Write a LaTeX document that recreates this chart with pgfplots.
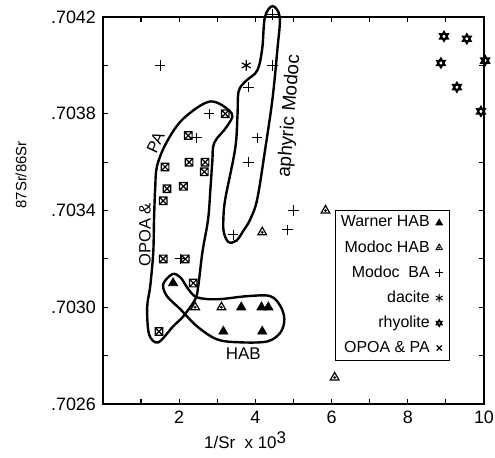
\documentclass[border=0pt]{standalone}
\usepackage{fontspec}
\setmainfont{Liberation Sans}
\usepackage{pgfplots}
\pgfplotsset{compat=1.18}

% square with a cross in it (OPOA & PA)
\pgfdeclareplotmark{boxx}{%
  \pgfpathrectangle{\pgfqpoint{-\pgfplotmarksize}{-\pgfplotmarksize}}{\pgfqpoint{2\pgfplotmarksize}{2\pgfplotmarksize}}%
  \pgfpathmoveto{\pgfqpoint{-\pgfplotmarksize}{-\pgfplotmarksize}}%
  \pgfpathlineto{\pgfqpoint{\pgfplotmarksize}{\pgfplotmarksize}}%
  \pgfpathmoveto{\pgfqpoint{-\pgfplotmarksize}{\pgfplotmarksize}}%
  \pgfpathlineto{\pgfqpoint{\pgfplotmarksize}{-\pgfplotmarksize}}%
  \pgfusepathqstroke}
% six-pointed star (rhyolite)
\pgfdeclareplotmark{hexagram}{%
  \pgfpathmoveto{\pgfqpointpolar{90}{\pgfplotmarksize}}%
  \pgfpathlineto{\pgfqpointpolar{210}{\pgfplotmarksize}}%
  \pgfpathlineto{\pgfqpointpolar{330}{\pgfplotmarksize}}%
  \pgfpathclose
  \pgfpathmoveto{\pgfqpointpolar{270}{\pgfplotmarksize}}%
  \pgfpathlineto{\pgfqpointpolar{30}{\pgfplotmarksize}}%
  \pgfpathlineto{\pgfqpointpolar{150}{\pgfplotmarksize}}%
  \pgfpathclose
  \pgfusepathqstroke}
% open triangle with a dot (Modoc HAB)
\pgfdeclareplotmark{tridot}{%
  \pgfpathmoveto{\pgfqpointpolar{90}{\pgfplotmarksize}}%
  \pgfpathlineto{\pgfqpointpolar{210}{\pgfplotmarksize}}%
  \pgfpathlineto{\pgfqpointpolar{330}{\pgfplotmarksize}}%
  \pgfpathclose
  \pgfusepathqstroke
  \pgfpathcircle{\pgfpointorigin}{0.3\pgfplotmarksize}%
  \pgfusepathqfill}

\begin{document}
\begin{tikzpicture}
\begin{axis}[
  scale only axis, width=190.5bp, height=193.5bp,
  xmin=0, xmax=10, ymin=0.7026, ymax=0.7042,
  clip=false,
  axis line style={line width=0.8pt},
  tick align=inside, major tick length=2.5bp,
  tick style={black, line width=0.6pt},
  xtick={0,1,2,3,4,5,6,7,8,9,10},
  xticklabels={,,2,,4,,6,,8,,10},
  ytick={0.7026,0.7028,0.7030,0.7032,0.7034,0.7036,0.7038,0.7040,0.7042},
  yticklabels={.7026,,.7030,,.7034,,.7038,,.7042},
  tick label style={font=\fontsize{9}{10}\selectfont},
  legend plot pos=right,
  legend cell align=right,
  legend style={at={(rel axis cs:0.609,0.501)}, anchor=north west,
    draw=black, line width=0.5pt, font=\fontsize{8}{9}\selectfont,
    inner sep=1.2pt, row sep=2.3pt, nodes={inner sep=1.5pt}},
  legend image code/.code={\path (0cm,0cm) (0.22cm,0cm);
    \draw[#1] plot[only marks] coordinates {(0.1cm,0cm)};},
]
% outlines
\addplot[line width=1.2bp, smooth cycle, tension=0.55, forget plot] coordinates {
  (1.84,0.702921) (1.45,0.702855) (1.21,0.702888) (1.16,0.70300) (1.24,0.703087)
  (1.32,0.703228) (1.34,0.703365) (1.37,0.70349) (1.42,0.703585)
  (1.68,0.703685) (2.11,0.70378) (2.82,0.703851) (3.38,0.703801)
  (3.24,0.703745) (2.92,0.703680) (2.87,0.703602) (2.82,0.70349)
  (2.76,0.703365) (2.61,0.703228) (2.50,0.703087) (2.42,0.703033)
  (2.11,0.702963)
};
\addplot[line width=1.2bp, smooth cycle, tension=0.55, forget plot] coordinates {
  (4.45,0.704245) (4.64,0.704200) (4.58,0.70407) (4.45,0.703863)
  (4.26,0.703656) (4.05,0.703448) (3.87,0.703365) (3.70,0.703320)
  (3.50,0.703275) (3.29,0.70327) (3.17,0.703311) (3.16,0.703365)
  (3.21,0.703448) (3.47,0.703656) (3.53,0.703792) (3.56,0.703892)
  (3.74,0.703934) (4.05,0.703979) (4.18,0.70407) (4.25,0.704200)
};
\addplot[line width=1.2bp, smooth cycle, tension=0.55, forget plot] coordinates {
  (1.58,0.703095) (1.82,0.703137) (2.03,0.703124) (2.24,0.703075)
  (2.47,0.703041) (3.00,0.703033) (3.79,0.703046) (4.39,0.703046)
  (4.66,0.703004) (4.76,0.70295) (4.66,0.702896) (4.32,0.702859)
  (3.61,0.702855) (3.00,0.702867) (2.47,0.702921) (2.03,0.702992)
  (1.68,0.703046)
};
% Warner HAB
\addplot[only marks, mark=triangle*, mark size=2.6bp, forget plot] coordinates {
  (1.84,0.70310) (3.63,0.70300) (4.16,0.70300) (4.34,0.70300)
  (3.16,0.70290) (4.18,0.70290)
};
% Modoc HAB
\addplot[only marks, mark=tridot, mark size=2.5bp, line width=0.6pt, forget plot] coordinates {
  (2.42,0.70300) (3.11,0.70300) (4.18,0.70331) (5.84,0.70340) (6.08,0.70271)
};
% Modoc BA
\addplot[only marks, mark=+, mark size=2.6bp, line width=0.5pt, forget plot] coordinates {
  (1.50,0.70400) (4.45,0.70421) (4.45,0.70400) (3.82,0.70391)
  (2.79,0.70380) (2.45,0.70370) (4.05,0.70370) (3.82,0.70360)
  (3.42,0.70330) (5.00,0.70340) (4.84,0.70332) (2.03,0.70320)
};
% dacite
\addplot[only marks, mark=asterisk, mark size=2.6bp, line width=0.6pt, forget plot] coordinates {
  (3.76,0.70400)
};
% rhyolite
\addplot[only marks, mark=hexagram, mark size=2.3bp, line width=0.9pt, forget plot] coordinates {
  (8.95,0.70412) (9.55,0.70411) (8.87,0.70401) (9.29,0.70391)
  (10.03,0.70402) (9.92,0.70381)
};
% OPOA & PA
\addplot[only marks, mark=boxx, mark size=1.9bp, line width=0.6pt, forget plot] coordinates {
  (3.21,0.70380) (2.24,0.70371) (1.63,0.70358) (2.26,0.70360)
  (2.68,0.70360) (2.66,0.70356) (1.68,0.70349) (2.11,0.70350)
  (1.58,0.70344) (1.58,0.70320) (2.16,0.70320) (2.37,0.70310)
  (1.47,0.70290)
};
% legend
\addlegendimage{mark=triangle*, mark size=1.8bp}
\addlegendentry{Warner HAB}
\addlegendimage{mark=tridot, mark size=1.8bp, line width=0.5pt}
\addlegendentry{Modoc HAB}
\addlegendimage{mark=+, mark size=2bp, line width=0.5pt}
\addlegendentry{Modoc\ \ BA}
\addlegendimage{mark=asterisk, mark size=2bp, line width=0.5pt}
\addlegendentry{dacite}
\addlegendimage{mark=hexagram, mark size=1.5bp, line width=0.8pt}
\addlegendentry{rhyolite}
\addlegendimage{mark=x, mark size=1.8bp, line width=0.6pt}
\addlegendentry{OPOA \& PA}
% labels
\node[rotate=90, font=\fontsize{8.3}{9}\selectfont] at (axis cs:1.10,0.70330) {OPOA \&};
\node[rotate=65, inner sep=0.5pt, font=\fontsize{8.3}{9}\selectfont] at (axis cs:1.38,0.70368) {PA};
\node[rotate=85.5, font=\fontsize{9.5}{10}\selectfont] at (axis cs:4.90,0.70379) {aphyric Modoc};
\node[font=\fontsize{8.5}{9}\selectfont] at (axis cs:3.68,0.70281) {HAB};
\node[rotate=90, font=\fontsize{7.5}{8}\selectfont] at (rel axis cs:-0.215,0.592) {87Sr/86Sr};
\node[font=\fontsize{8.5}{9}\selectfont] at (rel axis cs:0.373,-0.093) {1/Sr\ \ x 10\raisebox{0.6ex}{3}};
\coordinate (bbSW) at (rel axis cs:-0.2703,-0.137);
\coordinate (bbNE) at (rel axis cs:1.0289,1.044);
\end{axis}
\pgfresetboundingbox
\useasboundingbox (bbSW) rectangle (bbNE);
\end{tikzpicture}
\end{document}
